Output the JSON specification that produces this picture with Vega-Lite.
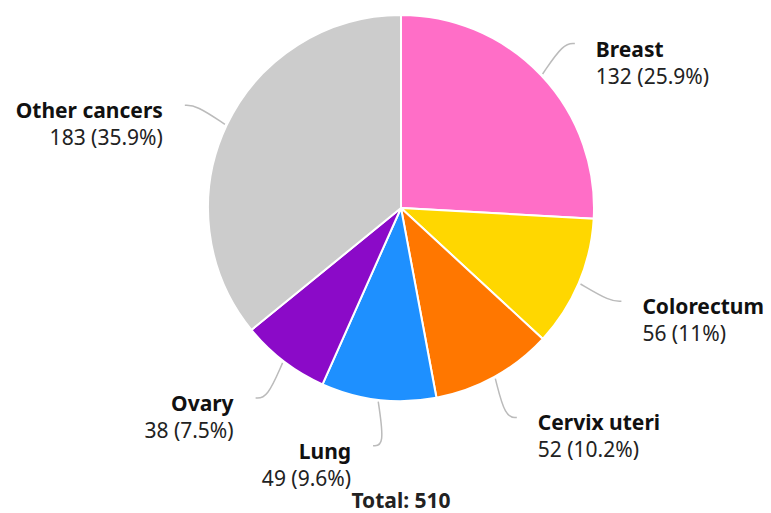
{
  "$schema": "https://vega.github.io/schema/vega-lite/v6.json",
  "width": 386,
  "height": 386,
  "autosize": {"type": "none"},
  "padding": {"left": 208, "top": 15, "right": 177, "bottom": 112},
  "background": "white",
  "config": {"view": {"stroke": null}},
  "title": {
    "text": "Total: 510",
    "orient": "bottom",
    "frame": "group",
    "anchor": "middle",
    "offset": 1,
    "font": "Noto Sans",
    "fontSize": 21,
    "fontWeight": "bold",
    "color": "#222222"
  },
  "data": {
    "values": [
      {"category": "Breast", "value": 132},
      {"category": "Colorectum", "value": 56},
      {"category": "Cervix uteri", "value": 52},
      {"category": "Lung", "value": 49},
      {"category": "Ovary", "value": 38},
      {"category": "Other cancers", "value": 183}
    ]
  },
  "transform": [
    {"window": [{"op": "row_number", "as": "idx"}]},
    {"joinaggregate": [{"op": "sum", "field": "value", "as": "total"}]},
    {"window": [{"op": "sum", "field": "value", "as": "cum"}], "sort": [{"field": "idx"}], "frame": [null, 0]},
    {"calculate": "2*PI*(datum.cum - datum.value/2)/datum.total", "as": "mid"},
    {"calculate": "sin(datum.mid) >= 0 ? 1 : -1", "as": "side"},
    {"calculate": "1.24*sin(datum.mid)", "as": "ax"},
    {"calculate": "1.24*cos(datum.mid)", "as": "ay"},
    {"calculate": "datum.value + ' (' + format(100*datum.value/datum.total, '.1~f') + '%)'", "as": "label"}
  ],
  "layer": [
    {
      "mark": {"type": "arc", "stroke": "white", "strokeWidth": 2},
      "encoding": {
        "theta": {"field": "value", "type": "quantitative", "stack": true},
        "order": {"field": "idx", "type": "quantitative"},
        "color": {
          "field": "category",
          "type": "nominal",
          "legend": null,
          "scale": {
            "domain": ["Breast", "Colorectum", "Cervix uteri", "Lung", "Ovary", "Other cancers"],
            "range": ["#FF6EC7", "#FFD700", "#FF7700", "#1E90FF", "#8B0AC8", "#CCCCCC"]
          }
        }
      }
    },
    {
      "transform": [
        {"calculate": "[0,1,2]", "as": "pt"},
        {"flatten": ["pt"]},
        {"calculate": "datum.pt == 0 ? 1.01*sin(datum.mid) : (datum.pt == 1 ? datum.ax - datum.side*0.06 : datum.ax)", "as": "px"},
        {"calculate": "datum.pt == 0 ? 1.01*cos(datum.mid) : datum.ay", "as": "py"}
      ],
      "mark": {"type": "line", "interpolate": "basis", "color": "#BBBBBB", "strokeWidth": 1.5},
      "encoding": {
        "x": {"field": "px", "type": "quantitative", "scale": {"domain": [-1, 1], "nice": false, "zero": false}, "axis": null},
        "y": {"field": "py", "type": "quantitative", "scale": {"domain": [-1, 1], "nice": false, "zero": false}, "axis": null},
        "detail": {"field": "category"},
        "order": {"field": "pt", "type": "quantitative"}
      }
    },
    {
      "transform": [{"filter": "datum.side > 0"}],
      "mark": {"type": "text", "align": "left", "baseline": "alphabetic", "dx": 21, "dy": 13, "font": "Noto Sans", "fontSize": 21, "fontWeight": "bold", "color": "#111111"},
      "encoding": {
        "x": {"field": "ax", "type": "quantitative"},
        "y": {"field": "ay", "type": "quantitative"},
        "text": {"field": "category"}
      }
    },
    {
      "transform": [{"filter": "datum.side > 0"}],
      "mark": {"type": "text", "align": "left", "baseline": "alphabetic", "dx": 21, "dy": 40, "font": "Noto Sans", "fontSize": 21, "color": "#222222"},
      "encoding": {
        "x": {"field": "ax", "type": "quantitative"},
        "y": {"field": "ay", "type": "quantitative"},
        "text": {"field": "label"}
      }
    },
    {
      "transform": [{"filter": "datum.side < 0"}],
      "mark": {"type": "text", "align": "right", "baseline": "alphabetic", "dx": -22, "dy": 13, "font": "Noto Sans", "fontSize": 21, "fontWeight": "bold", "color": "#111111"},
      "encoding": {
        "x": {"field": "ax", "type": "quantitative"},
        "y": {"field": "ay", "type": "quantitative"},
        "text": {"field": "category"}
      }
    },
    {
      "transform": [{"filter": "datum.side < 0"}],
      "mark": {"type": "text", "align": "right", "baseline": "alphabetic", "dx": -22, "dy": 40, "font": "Noto Sans", "fontSize": 21, "color": "#222222"},
      "encoding": {
        "x": {"field": "ax", "type": "quantitative"},
        "y": {"field": "ay", "type": "quantitative"},
        "text": {"field": "label"}
      }
    }
  ]
}
